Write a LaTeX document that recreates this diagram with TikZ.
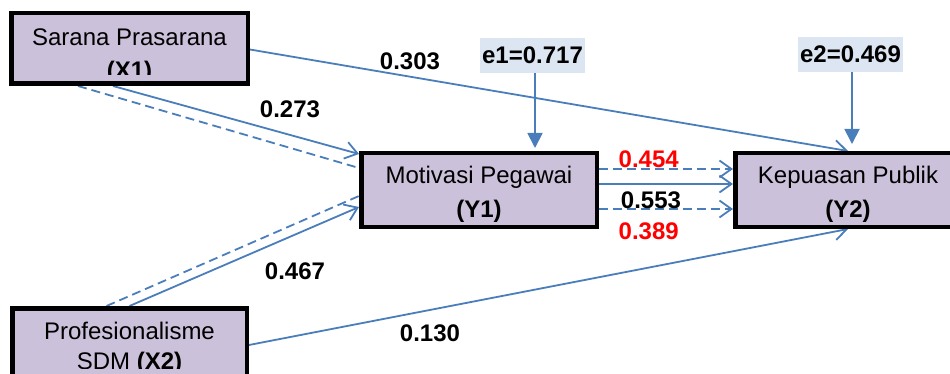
\documentclass[tikz,border=0pt]{standalone}
\usepackage{fontspec}
\setmainfont{Liberation Sans}
\usetikzlibrary{arrows.meta,calc}
\pgfdeclarelayer{bg}
\pgfsetlayers{bg,main}
\definecolor{pathblue}{HTML}{4A7EBB}
\definecolor{boxfill}{HTML}{CCC1DA}
\definecolor{errfill}{HTML}{DCE6F2}
\definecolor{coefred}{HTML}{FF0000}
\tikzset{
  varbox/.style={draw=black, line width=4.5pt, fill=boxfill, inner sep=0pt},
  errbox/.style={fill=errfill, inner sep=0pt, minimum width=105pt, minimum height=35pt,
    font=\fontsize{24}{28}\selectfont\bfseries},
  boxtext/.style={anchor=base, inner sep=0pt, font=\fontsize{24}{28}\selectfont},
  coef/.style={anchor=base, inner sep=0pt, font=\fontsize{24}{28}\selectfont\bfseries},
  path/.style={draw=pathblue, line width=1.8pt, -{Straight Barb[length=12pt,width=17pt]}},
  pathdash/.style={draw=pathblue, line width=1.8pt, dash pattern=on 9pt off 5pt},
  errarrow/.style={draw=pathblue, line width=1.8pt, -{Triangle[length=15pt,width=15pt]}},
}
\begin{document}
\begin{tikzpicture}[x=1pt, y=-1pt]
  \clip (0,0) rectangle (950,374);
  \useasboundingbox (0,0) rectangle (950,374);

  % latent variable boxes
  \node[varbox, minimum width=236.5pt, minimum height=70.5pt] (x1) at (129.5,48.5) {};
  \node[varbox, minimum width=235.5pt, minimum height=73.5pt] (y1) at (479,190) {};
  \node[varbox, minimum width=225.5pt, minimum height=73.5pt] (y2) at (848,190) {};
  \node[varbox, minimum width=234.5pt, minimum height=73.5pt] (x2) at (129.5,345) {};

  % box captions
  \node[boxtext] (x1a) at (129.5,46) {Sarana Prasarana};
  \begin{scope}
    \clip (10,50) rectangle (250,75);
    \node[boxtext] (x1b) at (129.5,78.7) {\bfseries (X1)};
  \end{scope}
  \node[boxtext] (y1a) at (479,184) {Motivasi Pegawai};
  \node[boxtext] (y1b) at (479,218) {\bfseries (Y1)};
  \node[boxtext] (y2a) at (848,184) {Kepuasan Publik};
  \node[boxtext] (y2b) at (848,218) {\bfseries (Y2)};
  \node[boxtext] (x2a) at (129.5,339) {Profesionalisme};
  \begin{scope}
    \clip (10,345) rectangle (250,368);
    \node[boxtext] (x2b) at (129.5,369.7) {SDM \bfseries (X2)};
  \end{scope}

  % error terms
  \node[errbox] (e1) at (532.5,55.5) {e1=0.717};
  \node[errbox] (e2) at (850.5,54.5) {e2=0.469};
  \coordinate (e1s) at ($(e1.south)+(2.5,0)$);
  \coordinate (e2s) at ($(e2.south)+(1.5,0)$);

  % path coefficients
  \node[coef] (c303) at (410,69.3) {0.303};
  \node[coef] (c273) at (290,117.7) {0.273};
  \node[coef] (c467) at (295,279.3) {0.467};
  \node[coef] (c130) at (430,341.7) {0.130};
  \node[coef, text=coefred] (c454) at (648.7,167.3) {0.454};
  \node[coef] (c553) at (651,208.3) {0.553};
  \node[coef, text=coefred] (c389) at (648.7,239) {0.389};

  % connectors, drawn beneath the boxes
  \begin{pgfonlayer}{bg}
    \draw[path] ($(x1.east)+(-6,0)$) -- (y2.north);
    \draw[path] ($(x1.south west)+(104,0)$) -- ($(y1.north west)+(0,3)$);
    \draw[pathdash] ($(x1.south west)+(69,0)$) -- ($(y1.north west)+(0,17)$);
    \draw[path] (x2.north) -- ($(y1.south west)+(0,-22)$);
    \draw[pathdash] ($(x2.north)+(-23,0)$) -- ($(y1.south west)+(0,-33)$);
    \draw[path] (x2.east) -- (y2.south);
    \draw[path] ($(y1.east)+(0,-6)$) -- ($(y2.west)+(0,-6)$);
    \draw[pathdash, -{Straight Barb[length=12pt,width=17pt]}] ($(y1.east)+(0,-21)$) -- ($(y2.west)+(0,-21)$);
    \draw[pathdash, -{Straight Barb[length=12pt,width=17pt]}] ($(y1.east)+(0,19)$) -- ($(y2.west)+(0,19)$);
  \end{pgfonlayer}
  \draw[errarrow, shorten >=3pt] (e1s) -- (e1s |- y1.north);
  \draw[errarrow, shorten >=7pt] (e2s) -- (e2s |- y2.north);
\end{tikzpicture}
\end{document}
